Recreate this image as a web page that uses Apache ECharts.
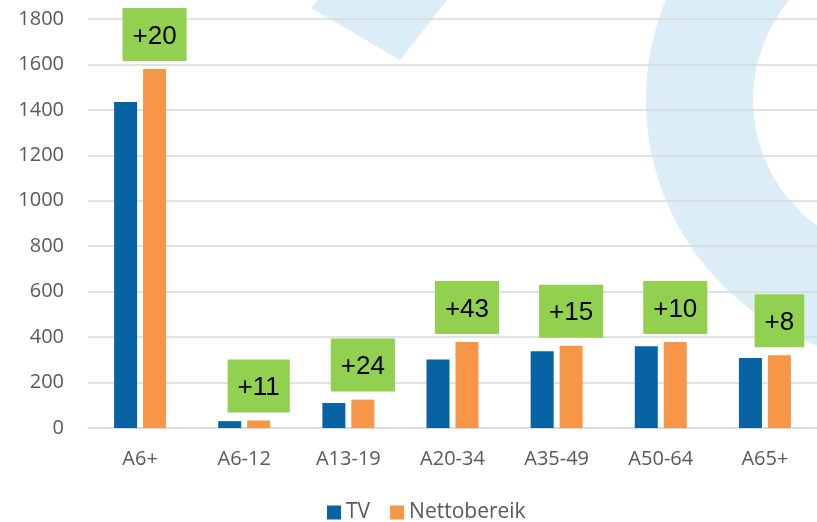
<!DOCTYPE html>
<html>
<head>
<meta charset="utf-8">
<title>TV vs Nettobereik</title>
<script src="https://cdn.jsdelivr.net/npm/echarts@6/dist/echarts.min.js"></script>
<style>
  html, body { margin: 0; padding: 0; background: #fff; }
  #wrap { position: relative; width: 817px; height: 522px; overflow: hidden; }
  #watermark { position: absolute; left: 0; top: 0; }
  #chart { position: absolute; left: 0; top: 0; width: 817px; height: 522px; }
</style>
</head>
<body>
<div id="wrap">
  <!-- lichtblauw watermerk achter de grafiek -->
  <svg id="watermark" width="817" height="522">
    <path fill="#dbeef8" fill-rule="evenodd"
      d="M 646 100 a 262 262 0 1 0 524 0 a 262 262 0 1 0 -524 0 Z
         M 753 100 a 155 155 0 1 0 310 0 a 155 155 0 1 0 -310 0 Z" />
    <polygon fill="#dbeef8" points="318,0 311,8 400,60 447,0" />
  </svg>
  <div id="chart"></div>
</div>
<script>
// doelgroepen
var categories = ['A6+', 'A6-12', 'A13-19', 'A20-34', 'A35-49', 'A50-64', 'A65+']
var tvValues = [1435, 30, 110, 302, 338, 360, 308]
var nettoValues = [1580, 33, 125, 378, 362, 378, 320]
// toename in de groene vakjes
var increaseLabels = ['+20', '+11', '+24', '+43', '+15', '+10', '+8']
var yTicks = { min: 0, max: 1800, interval: 200 }

var chart = echarts.init(document.getElementById('chart'), null, { renderer: 'canvas' })

var option = {
  animation: false,
  grid: {
    left: 88,
    right: 0,
    top: 19,
    bottom: 94
  },
  legend: {
    left: 327,
    top: 502,
    padding: 0,
    itemWidth: 14,
    itemHeight: 14,
    itemGap: 20,
    icon: 'rect',
    textStyle: {
      fontFamily: 'Open Sans',
      fontSize: 21,
      color: '#595959'
    },
    data: ['TV', 'Nettobereik']
  },
  xAxis: {
    type: 'category',
    data: categories,
    axisTick: { show: false },
    axisLine: { lineStyle: { color: '#d9d9d9', width: 1.5 } },
    axisLabel: {
      margin: 21,
      fontFamily: 'Open Sans',
      fontSize: 20,
      color: '#595959'
    }
  },
  yAxis: {
    type: 'value',
    min: yTicks.min,
    max: yTicks.max,
    interval: yTicks.interval,
    axisLine: { show: false },
    axisTick: { show: false },
    splitLine: { lineStyle: { color: '#d9d9d9', width: 1.5 } },
    axisLabel: {
      margin: 24,
      fontFamily: 'Open Sans',
      fontSize: 20,
      color: '#595959',
      formatter: function (v) {
        return String(v)
      }
    }
  },
  series: [
    {
      name: 'TV',
      type: 'bar',
      data: tvValues,
      barWidth: 23,
      barGap: '26%',
      itemStyle: { color: '#0863a5' }
    },
    {
      name: 'Nettobereik',
      type: 'bar',
      data: nettoValues,
      barWidth: 23,
      itemStyle: { color: '#f79646' },
      label: {
        show: true,
        position: 'top',
        distance: 8,
        formatter: function (p) {
          return increaseLabels[p.dataIndex]
        },
        fontFamily: 'Liberation Sans',
        fontSize: 26,
        lineHeight: 33,
        color: '#000000',
        backgroundColor: '#92d050',
        padding: [12, 10, 8, 10]
      }
    }
  ]
}

chart.setOption(option)
</script>
</body>
</html>
